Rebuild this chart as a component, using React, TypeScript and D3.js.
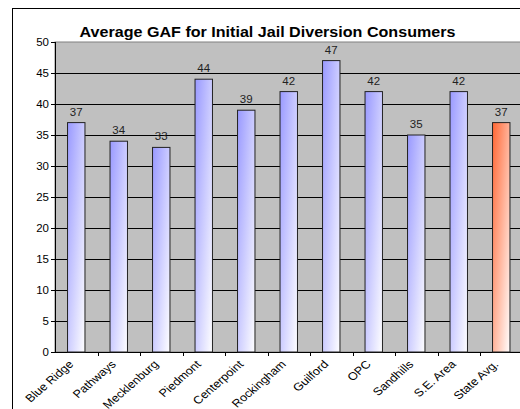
import React from "react";
import * as d3 from "d3";

const categories = ["Blue Ridge", "Pathways", "Mecklenburg", "Piedmont", "Centerpoint", "Rockingham", "Guilford", "OPC", "Sandhills", "S.E. Area", "State Avg."];
const values = [37, 34, 33, 44, 39, 42, 47, 42, 35, 42, 37];
const yTicks = [0, 5, 10, 15, 20, 25, 30, 35, 40, 45, 50];
const title = "Average GAF for Initial Jail Diversion Consumers";

const W = 520, H = 409;
const plot = { left: 55, right: 522.5, top: 42, bottom: 352 };
const font = "Arial, 'Liberation Sans', sans-serif";
const SX = 1.15;

export default function App() {
  const x = d3.scaleBand<string>().domain(categories).range([plot.left, plot.right]).paddingInner(0).paddingOuter(0);
  const y = d3.scaleLinear().domain([0, 50]).range([plot.bottom, plot.top]);
  const bw = x.bandwidth() * 0.41;
  return (
    <svg width={W} height={H} style={{ position: "absolute", left: 0, top: 0, display: "block" }}>
      <defs>
        <linearGradient id="gBlue" x1="0" y1="0" x2="1" y2="1">
          <stop offset="0" stopColor="#9999FF" />
          <stop offset="1" stopColor="#FFFFFF" />
        </linearGradient>
        <linearGradient id="gRed" x1="0" y1="0" x2="1" y2="1">
          <stop offset="0" stopColor="#FF6633" />
          <stop offset="1" stopColor="#FFFFFF" />
        </linearGradient>
      </defs>
      <rect x={0} y={0} width={W} height={H} fill="#fff" />
      <rect x={12.5} y={8.5} width={600} height={500} fill="#fff" stroke="#000" strokeWidth={1} />
      <text transform={`translate(267.5,36.5) scale(${SX},1)`} textAnchor="middle" fontFamily={font} fontWeight="bold" fontSize={14}>{title}</text>
      <rect x={plot.left} y={plot.top} width={plot.right - plot.left} height={plot.bottom - plot.top} fill="#C0C0C0" stroke="#808080" strokeWidth={1} />
      {yTicks.map((t) => (
        <g key={t}>
          {t > 0 && t < 50 && (
            <line x1={plot.left} x2={plot.right} y1={Math.round(y(t)) + 0.5} y2={Math.round(y(t)) + 0.5} stroke="#000" strokeWidth={1} />
          )}
          <line x1={plot.left - 4} x2={plot.left} y1={Math.round(y(t)) + 0.5} y2={Math.round(y(t)) + 0.5} stroke="#000" />
          <text transform={`translate(${plot.left - 6},${y(t) + 3.5}) scale(${SX},1)`} textAnchor="end" fontFamily={font} fontSize={10}>{t}</text>
        </g>
      ))}
      <line x1={plot.left + 0.5} x2={plot.left + 0.5} y1={plot.top} y2={plot.bottom + 0.5} stroke="#000" />
      <line x1={plot.left} x2={plot.right} y1={plot.bottom + 0.5} y2={plot.bottom + 0.5} stroke="#000" />
      {categories.map((c) => (
        <line key={"t" + c} x1={Math.round(x(c)! + x.bandwidth()) + 0.5} x2={Math.round(x(c)! + x.bandwidth()) + 0.5} y1={plot.bottom} y2={plot.bottom + 4} stroke="#000" />
      ))}
      {categories.map((c, i) => {
        const cx = x(c)! + x.bandwidth() / 2;
        const top = y(values[i]);
        return (
          <g key={c}>
            <rect x={cx - bw / 2} y={top} width={bw} height={plot.bottom - top} fill={i === categories.length - 1 ? "url(#gRed)" : "url(#gBlue)"} stroke="#222" strokeWidth={1} />
            <text transform={`translate(${cx},${top - 7}) scale(${SX},1)`} textAnchor="middle" fontFamily={font} fontSize={10} fill="#222">{values[i]}</text>
            <text transform={`translate(${cx - 2},${plot.bottom + 13}) scale(${SX},1) rotate(-45)`} textAnchor="end" fontFamily={font} fontSize={11}>{c}</text>
          </g>
        );
      })}
    </svg>
  );
}
